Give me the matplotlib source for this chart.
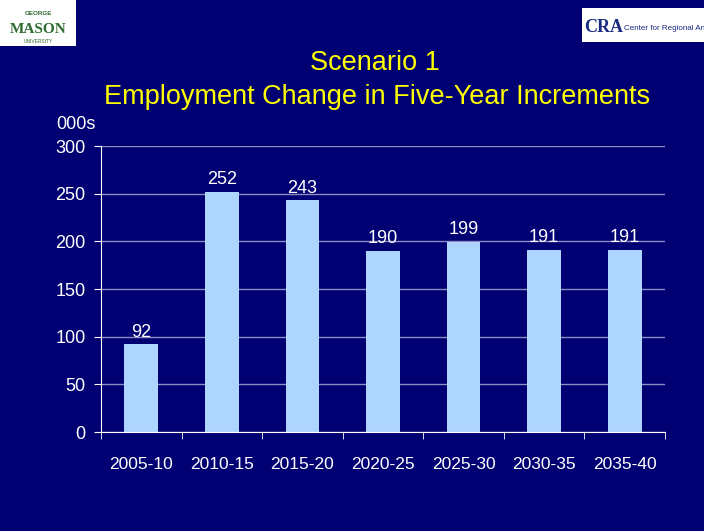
import matplotlib
matplotlib.use("Agg")
from matplotlib import pyplot as plt
from matplotlib.patches import Rectangle
import numpy as np

periods = ["2005-10", "2010-15", "2015-20", "2020-25", "2025-30", "2030-35", "2035-40"]
jobs = [92, 252, 243, 190, 199, 191, 191]
yticks = [0, 50, 100, 150, 200, 250, 300]

BG = "#000073"
BAR = "#ADD5FF"
GRID = "#8C8CC0"
YEL = "#FFFF00"

plt.rcParams["font.family"] = ["Liberation Sans", "DejaVu Sans"]

fig = plt.figure(figsize=(7.04, 5.31), dpi=100, facecolor=BG)
ax = fig.add_axes([0.1435, 0.1864, 0.8011, 0.5386], facecolor=BG)

x = np.arange(len(periods))
ax.bar(x, jobs, width=0.42, color=BAR, zorder=3)
for xi, v in zip(x, jobs):
    ax.text(xi, v + 4, str(v), ha="center", va="bottom", color="white", fontsize=13, zorder=4)

ax.set_xlim(-0.5, len(periods) - 0.5)
ax.set_ylim(0, 300)
ax.set_yticks(yticks)
ax.set_xticks(x)
ax.set_xticklabels(periods)
ax.set_xticks(np.arange(-0.5, len(periods)), minor=True)
ax.tick_params(axis="x", which="major", length=0, pad=18, labelsize=12.5, colors="white")
ax.tick_params(axis="x", which="minor", length=5, color="white", direction="out")
ax.tick_params(axis="y", length=5, color="white", labelsize=13, labelcolor="white", pad=6)
ax.yaxis.grid(True, color=GRID, linewidth=1, zorder=0)
for s in ["top", "right"]:
    ax.spines[s].set_visible(False)
for s in ["left", "bottom"]:
    ax.spines[s].set_color("white")
    ax.spines[s].set_zorder(5)

ax.text(-0.045, 1.045, "000s", transform=ax.transAxes, ha="center", va="bottom",
        color="white", fontsize=13)

fig.text(0.533, 1 - 63 / 531, "Scenario 1", ha="center", va="center", color=YEL, fontsize=19.5)
fig.text(0.536, 1 - 97 / 531, "Employment Change in Five-Year Increments", ha="center",
         va="center", color=YEL, fontsize=19.5)

# logos
fig.patches.append(Rectangle((0, 1 - 46 / 531), 76 / 704, 46 / 531, transform=fig.transFigure,
                             facecolor="white", edgecolor="none"))
fig.text(0.054, 0.945, "MASON", ha="center", va="center", color="#2E6B2E",
         fontsize=11, fontweight="bold", family="Liberation Serif")
fig.text(0.054, 0.975, "GEORGE", ha="center", va="center", color="#2E6B2E", fontsize=4.5,
         fontweight="bold")
fig.text(0.054, 0.922, "UNIVERSITY", ha="center", va="center", color="#2E6B2E", fontsize=3.5)

fig.patches.append(Rectangle((582 / 704, 1 - 42 / 531), 122 / 704, 34 / 531,
                             transform=fig.transFigure, facecolor="white", edgecolor="none"))
fig.text(584 / 704, 1 - 27 / 531, "CRA", ha="left", va="center", color="#1A2A80",
         fontsize=13, fontweight="bold", family="Liberation Serif")
fig.text(624 / 704, 1 - 28 / 531, "Center for Regional Analysis", ha="left", va="center",
         color="#1A2A80", fontsize=5.8)

fig.savefig("out.png", dpi=100, facecolor=BG)
